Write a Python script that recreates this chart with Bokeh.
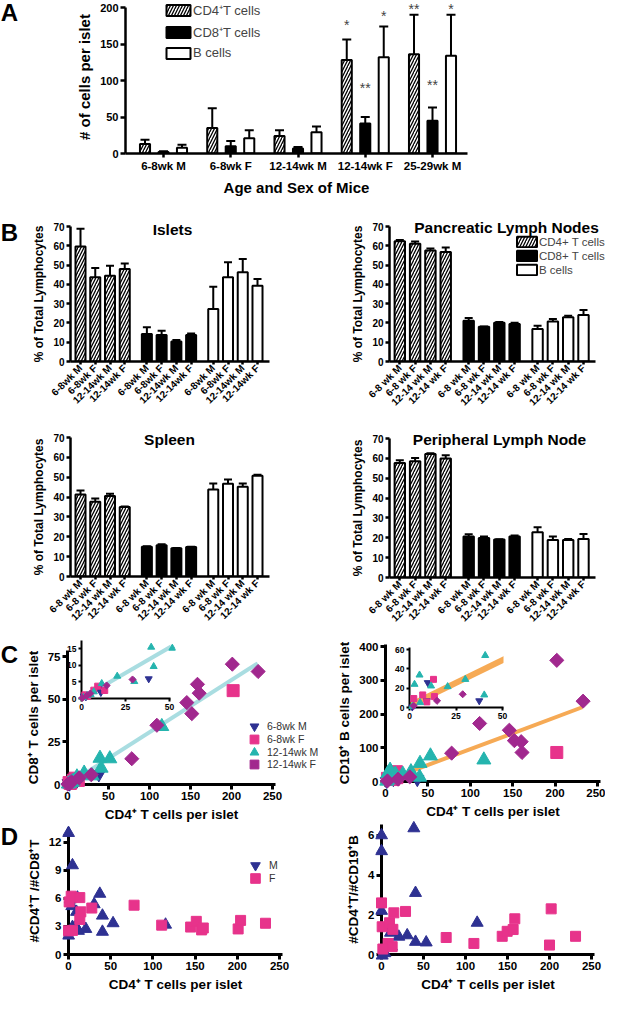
import math
from bokeh.plotting import figure
from bokeh.models import (ColumnDataSource, Whisker, TeeHead, Legend, LegendItem,
                          FixedTicker, GridBox, Range1d, Column)
from bokeh.core.properties import value
from bokeh.embed import file_html
from bokeh.resources import INLINE

FONT = "Liberation Sans"
NAVY = "#2E3192"
PINK = "#E7338B"
TEAL = "#25B4AE"
PURPLE = "#A1288E"
CYAN_LINE = "#A9DDE1"
ORANGE_LINE = "#F6AA55"
NAN = float("nan")

# ---------------- Panel A data ----------------
a_groups = ["6-8wk M", "6-8wk F", "12-14wk M", "12-14wk F", "25-29wk M"]
a_cd4 = [13, 35, 24, 128, 136]
a_cd4_err = [19, 62, 32, 156, 190]
a_cd8 = [2, 10, 7, 41, 45]
a_cd8_err = [3, 17, 9, 50, 63]
a_b = [8, 21, 29, 132, 134]
a_b_err = [12, 32, 37, 174, 190]
a_sig_group = [3, 3, 3, 4, 4, 4]
a_sig_series = [0, 1, 2, 0, 1, 2]
a_sig_text = ["*", "**", "*", "**", "**", "*"]
a_sig_y = [181, 95, 194, 204, 99, 204]

# ---------------- Panel B data ----------------
cats_islets = ["6-8wk M", "6-8wk F", "12-14wk M", "12-14wk F"]
cats_other = ["6-8 wk M", "6-8 wk F", "12-14 wk M", "12-14 wk F"]

isl_cd4 = [59.6, 43.7, 44.5, 48.0]
isl_cd4_err = [68.8, 48.5, 49.6, 50.8]
isl_cd8 = [14.2, 13.7, 10.4, 13.7]
isl_cd8_err = [17.7, 16.0, 11.1, 14.5]
isl_b = [27.2, 43.7, 46.3, 39.3]
isl_b_err = [38.8, 51.5, 53.2, 42.8]

pln_cd4 = [62.4, 61.0, 57.5, 56.8]
pln_cd4_err = [63.0, 62.2, 58.6, 59.1]
pln_cd8 = [21.1, 18.0, 20.1, 19.4]
pln_cd8_err = [22.5, 18.2, 20.5, 20.1]
pln_b = [16.8, 20.8, 22.9, 24.1]
pln_b_err = [18.5, 22.0, 23.7, 26.7]

spl_cd4 = [41.3, 37.7, 40.5, 35.0]
spl_cd4_err = [43.3, 39.3, 41.7, 35.3]
spl_cd8 = [15.0, 15.8, 14.2, 14.8]
spl_cd8_err = [15.2, 16.2, 14.3, 15.0]
spl_b = [43.8, 46.7, 45.2, 50.8]
spl_b_err = [46.8, 48.8, 46.8, 51.3]

per_cd4 = [57.7, 58.5, 62.2, 59.9]
per_cd4_err = [59.0, 60.2, 62.6, 61.6]
per_cd8 = [20.7, 19.9, 19.1, 20.7]
per_cd8_err = [21.8, 20.6, 19.2, 21.2]
per_b = [22.8, 18.9, 18.9, 19.4]
per_b_err = [25.3, 20.6, 19.4, 21.9]

b_titles = ["Islets", "Pancreatic Lymph Nodes", "Spleen", "Peripheral Lymph Node"]
panel_letters = ["A", "B", "C", "D"]

# ---------------- Panel C data ----------------
c_groups = ["6-8wk M", "6-8wk F", "12-14wk M", "12-14wk F"]
cl_m68_x = [1.3, 2.5, 9.9, 11.0, 38.2]
cl_m68_y = [0.7, 0.5, 2.9, 1.8, 5.9]
cl_f68_x = [1.9, 3.5, 7.0, 9.2, 13.2, 202]
cl_f68_y = [1.1, 0.6, 2.5, 3.7, 2.4, 55]
cl_m1214_x = [1.0, 3.2, 5.2, 7.0, 11.5, 20.3, 30.0, 39.6, 41.0, 51.6, 115]
cl_m1214_y = [0.3, 0.9, 1.2, 2.0, 4.5, 6.7, 5.1, 15.4, 9.6, 15.1, 34.0]
cl_f1214_x = [0.5, 3.0, 5.0, 14.3, 29.0, 78.4, 109, 145.5, 151.6, 158.5, 160.6, 201, 232.5]
cl_f1214_y = [0.2, 0.8, 1.5, 3.9, 5.7, 15.1, 34.7, 48.0, 41.5, 58.7, 53.5, 70.5, 66.2]
cl_fit_x = [0, 232]
cl_fit_y = [0, 71]
cr_m68_x = [1.5, 9.3, 9.8, 37.5]
cr_m68_y = [0.5, 6.9, 25.7, 6.9]
cr_f68_x = [2.3, 7.1, 9.3, 12.9, 13.4, 202]
cr_f68_y = [9.3, 13.0, 5.8, 29.1, 11.3, 86]
cr_m1214_x = [1.5, 2.7, 5.4, 5.7, 11.6, 20.5, 30.0, 40.2, 40.7, 53.0, 116]
cr_m1214_y = [1.2, 24.0, 33.6, 5.1, 22.3, 21.6, 29.1, 13.0, 53.8, 76.0, 64.0]
cr_f1214_x = [2.3, 14.8, 28.6, 78, 111, 146, 152, 160, 161, 202, 233]
cr_f1214_y = [1.7, 6.9, 13.7, 84, 172, 152, 121, 118, 86, 359, 238]
cr_fit_x = [0, 232]
cr_fit_y = [2, 220]

# ---------------- Panel D data ----------------
dl_m_x = [0, 4.7, 2, 3.9, 10.6, 9.5, 30.4, 37.1, 40.2, 52.8, 40.2, 20.5, 115, 0, 4.7, 8.7, 11.8]
dl_m_y = [13.0, 9.6, 6.0, 5.3, 6.2, 4.7, 5.5, 6.6, 4.3, 3.5, 2.6, 2.9, 3.35, 2.2, 3.1, 3.2, 2.7]
dl_f_x = [0, 0.8, 3.2, 4.7, 13.4, 14.6, 13.4, 27.6, 77.7, 110.4, 144.7, 151.4, 157.7, 159.7, 201, 203.9, 233.4]
dl_f_y = [2.7, 5.75, 6.35, 2.75, 6.2, 4.7, 3.9, 5.1, 5.4, 3.3, 3.1, 3.7, 2.8, 3.0, 2.9, 3.8, 3.5]
dr_m_x = [0, 0, 38.5, 40.5, 0, 113.9, 9.5, 10.7, 20.6, 30.6, 40.5, 53.2, 11.9, 4, 0.8]
dr_m_y = [6.1, 5.3, 6.45, 3.2, 2.3, 1.7, 1.55, 1.2, 1.0, 1.07, 0.74, 0.71, 0.5, 0.17, 0.05]
dr_f_x = [0, 0.8, 14.7, 28.6, 9.5, 13.5, 7.9, 12.7, 1.6, 77, 110, 143.7, 149.6, 156.7, 158.7, 200, 202, 231]
dr_f_y = [2.7, 1.5, 2.2, 2.27, 1.7, 1.37, 0.66, 0.5, 0.38, 0.96, 0.66, 1.02, 1.27, 1.36, 1.9, 0.58, 2.4, 1.02]
d_groups = ["M", "F"]


def lin(px, cal):
    pa, va, pb, vb = cal
    return va + (px - pa) * (vb - va) / (pb - pa)


placed = []


def make_fig(canvas, frame, xcal, ycal, axes=True):
    cl, ct, cr, cb = canvas
    fl, ft, fr, fb = frame
    kw = {} if axes else dict(x_axis_location=None, y_axis_location=None)
    p = figure(width=cr - cl, height=cb - ct,
               x_range=Range1d(lin(fl, xcal), lin(fr, xcal)),
               y_range=Range1d(lin(fb, ycal), lin(ft, ycal)),
               min_border_left=fl - cl, min_border_right=cr - fr,
               min_border_top=ft - ct, min_border_bottom=cb - fb,
               output_backend="svg", toolbar_location=None, **kw)
    p.xgrid.visible = False
    p.ygrid.visible = False
    p.outline_line_color = None
    p.background_fill_alpha = 0
    p.border_fill_alpha = 0
    placed.append(Column(children=[p], margin=(ct - 8, 0, 0, cl - 8)))
    return p


def style_axis(ax, lw, tick_out, tick_size, label_size, label_style="bold"):
    ax.axis_line_width = lw
    ax.axis_line_color = "black"
    ax.major_tick_line_width = lw
    ax.major_tick_line_color = "black"
    ax.major_tick_out = tick_out
    ax.major_tick_in = 0
    ax.minor_tick_line_color = None
    ax.major_label_text_font = FONT
    ax.major_label_text_font_style = "bold"
    ax.major_label_text_font_size = tick_size
    ax.major_label_text_color = "black"
    ax.major_label_standoff = 2
    ax.axis_label_text_font = FONT
    ax.axis_label_text_font_style = label_style
    ax.axis_label_text_font_size = label_size
    ax.axis_label_text_color = "black"
    ax.axis_label_standoff = 4


def bar_series(p, xs, vals, errs, width, fill, hatch, cap):
    src = ColumnDataSource(dict(x=xs, top=vals, err=errs))
    kw = {}
    if hatch:
        kw = dict(hatch_pattern=hatch, hatch_color="black", hatch_scale=6, hatch_weight=1.3)
    r = p.vbar(x="x", top="top", width=width, source=src, fill_color=fill,
               line_color="black", line_width=2, **kw)
    p.add_layout(Whisker(source=src, base="x", lower="top", upper="err",
                         dimension="height", line_width=2, line_color="black",
                         upper_head=TeeHead(size=cap, line_width=2, line_color="black"),
                         lower_head=None))
    return r


def bar_legend(p, labels, rends, loc, gw, gh, lh, spacing, size):
    p.add_layout(Legend(items=[LegendItem(label=value(t), renderers=[r]) for t, r in zip(labels, rends)],
                        location=loc, glyph_width=gw, glyph_height=gh, label_height=lh,
                        spacing=spacing, label_standoff=0, padding=0, margin=0,
                        border_line_color=None, background_fill_alpha=0,
                        label_text_font=FONT, label_text_font_size=size))


# ---------------- Panel A ----------------
pA = make_fig((8, 8, 488, 206), (133, 8, 475, 161), (171, 0, 440, 4), (161, 0, 15, 200))
offs = [-0.275, 0.0, 0.275]
a_series = [(a_cd4, a_cd4_err, "white", "/"),
            (a_cd8, a_cd8_err, "black", None),
            (a_b, a_b_err, "white", None)]
a_rends = []
for s, (vals, errs, fill, hatch) in enumerate(a_series):
    xs = [i + offs[s] for i in range(len(vals))]
    a_rends.append(bar_series(pA, xs, vals, errs, 0.15, fill, hatch, 9))
star_src = ColumnDataSource(dict(
    x=[g + offs[s] for g, s in zip(a_sig_group, a_sig_series)],
    y=a_sig_y, t=a_sig_text))
pA.text(x="x", y="y", text="t", source=star_src, text_font=value(FONT),
        text_font_size="14px", text_align="center", text_baseline="middle",
        y_offset=4, text_color="#444444")
style_axis(pA.xaxis[0], 2.5, 4, "11.5px", "15px")
style_axis(pA.yaxis[0], 2.5, 5, "11px", "15px")
pA.xaxis[0].ticker = FixedTicker(ticks=list(range(len(a_groups))))
pA.xaxis[0].major_label_overrides = {i: g for i, g in enumerate(a_groups)}
pA.xaxis.axis_label = "Age and Sex of Mice"
pA.yaxis[0].ticker = FixedTicker(ticks=[0, 50, 100, 150, 200])
pA.yaxis[0].bounds = (0, 200)
pA.yaxis.axis_label = "# of cells per islet"
bar_legend(pA, ["CD4⁺T cells", "CD8⁺T cells", "B cells"], a_rends, (38, 93), 30, 14, 14, 4, "13px")


# ---------------- Panel B ----------------
def bar_panel(canvas, frame, x0px, x12px, axis_end_px, cats, data, legend_loc=None):
    fl, ft, fr, fb = frame
    xcal = (x0px, 0, x12px, 12)
    p = make_fig(canvas, frame, xcal, (fb, 0, ft, 70))
    styles = [("white", "/"), ("black", None), ("white", None)]
    positions, labels, rends = [], [], []
    for s, (vals, errs) in enumerate(data):
        xs = [i + 4.5 * s for i in range(len(vals))]
        positions += xs
        labels += cats
        rends.append(bar_series(p, xs, vals, errs, 0.68, styles[s][0], styles[s][1], 8))
    style_axis(p.xaxis[0], 2.5, 3, "10px", "12px")
    style_axis(p.yaxis[0], 2.5, 4, "10px", "12px")
    p.xaxis[0].ticker = FixedTicker(ticks=positions)
    p.xaxis[0].major_label_overrides = dict(zip(positions, labels))
    p.xaxis[0].major_label_orientation = math.pi / 4
    p.xaxis[0].bounds = (lin(fl, xcal), lin(axis_end_px, xcal))
    p.yaxis[0].ticker = FixedTicker(ticks=[0, 10, 20, 30, 40, 50, 60, 70])
    p.yaxis.axis_label = "% of Total Lymphocytes"
    if legend_loc:
        bar_legend(p, ["CD4+ T cells", "CD8+ T cells", "B cells"], rends,
                   legend_loc, 25, 13, 13, 1, "11.5px")
    return p


bar_panel((8, 208, 290, 430), (78, 234, 277, 369), 88, 265, 277, cats_islets,
          [(isl_cd4, isl_cd4_err), (isl_cd8, isl_cd8_err), (isl_b, isl_b_err)])
bar_panel((320, 208, 613, 430), (397, 234, 613, 369), 407.3, 591, 603, cats_other,
          [(pln_cd4, pln_cd4_err), (pln_cd8, pln_cd8_err), (pln_b, pln_b_err)],
          legend_loc=(522 - 397, 369 - 284))
bar_panel((8, 420, 290, 640), (78, 445, 277, 584), 88, 265, 277, cats_other,
          [(spl_cd4, spl_cd4_err), (spl_cd8, spl_cd8_err), (spl_b, spl_b_err)])
bar_panel((320, 420, 613, 640), (397, 446, 603, 585), 407.3, 591, 603, cats_other,
          [(per_cd4, per_cd4_err), (per_cd8, per_cd8_err), (per_b, per_b_err)])


# ---------------- scatter helpers ----------------
def axes_fig(canvas, frame, xcal, ycal, xticks, yticks, xlabel, ylabel,
             lw, tick_out, tick_size, label_size):
    p = make_fig(canvas, frame, xcal, ycal)
    style_axis(p.xaxis[0], lw, tick_out, tick_size, label_size)
    style_axis(p.yaxis[0], lw, tick_out, tick_size, label_size)
    p.xaxis[0].ticker = FixedTicker(ticks=xticks)
    p.yaxis[0].ticker = FixedTicker(ticks=yticks)
    if xlabel:
        p.xaxis.axis_label = xlabel
    if ylabel:
        p.yaxis.axis_label = ylabel
    return p


C_MARKERS = [("inverted_triangle", NAVY, 0.0, 13, 7),
             ("square", PINK, 0.0, 12, 6),
             ("triangle", TEAL, 0.0, 14, 7),
             ("square", PURPLE, math.pi / 4, 10, 5)]


def c_points(p, groups, big):
    rends = []
    for (xs, ys), (mk, col, ang, sb, ss) in zip(groups, C_MARKERS):
        rends.append(p.scatter(x=xs, y=ys, marker=mk, size=sb if big else ss, angle=ang,
                               fill_color=col, line_color=col))
    return rends


def row_legends(p, frame, labels, rends, left_px, first_center_py, pitch, gsize):
    # one single-item legend per row so rows can sit closer than the key glyph box
    fl, ft, fr, fb = frame
    for i, (t, r) in enumerate(zip(labels, rends)):
        bottom_py = first_center_py + i * pitch + gsize / 2
        p.add_layout(Legend(items=[LegendItem(label=value(t), renderers=[r])],
                            location=(left_px - fl, fb - bottom_py),
                            glyph_width=gsize, glyph_height=gsize, label_height=13,
                            label_standoff=2, padding=0, margin=0,
                            border_line_color=None, background_fill_alpha=0,
                            label_text_font=FONT, label_text_font_size="10.5px",
                            label_text_color="#333333"))


XT = [0, 50, 100, 150, 200, 250]

# ---------------- Panel C left ----------------
cl_xcal = (75, 0, 280, 250)
cl_ycal = (792, 0, 664, 75)
pCLa = axes_fig((8, 640, 300, 834), (75, 658, 283, 792), cl_xcal, cl_ycal, XT, [0, 25, 50, 75],
                "CD4⁺ T cells per islet", "CD8⁺ T cells per islet", 3, 5, "11.5px", "13.5px")
pCLa.line(cl_fit_x, cl_fit_y, line_color=CYAN_LINE, line_width=4)
CLd_frame = (67, 650, 326, 800)
pCLd = make_fig((8, 640, 326, 834), CLd_frame, cl_xcal, cl_ycal, axes=False)
cl_groups = [(cl_m68_x, cl_m68_y), (cl_f68_x, cl_f68_y), (cl_m1214_x, cl_m1214_y), (cl_f1214_x, cl_f1214_y)]
rCL = c_points(pCLd, cl_groups, True)
row_legends(pCLd, CLd_frame, c_groups, rCL, 251, 734, 12.8, 22)

cli_xcal = (89, 0, 177, 50)
cli_ycal = (706, 0, 656, 15)
pCLia = axes_fig((60, 640, 190, 730), (89, 648, 178, 706), cli_xcal, cli_ycal, [0, 25, 50],
                 [0, 5, 10, 15], None, None, 2, 3, "8.5px", "8px")
pCLia.line(cl_fit_x, cl_fit_y, line_color=CYAN_LINE, line_width=4)
pCLid = make_fig((60, 640, 190, 730), (84, 643, 183, 711), cli_xcal, cli_ycal, axes=False)
c_points(pCLid, cl_groups, False)

# ---------------- Panel C right ----------------
cr_xcal = (393, 0, 605, 250)
cr_ycal = (789, 0, 654, 400)
pCRa = axes_fig((322, 640, 613, 834), (393, 652, 608, 789), cr_xcal, cr_ycal, XT,
                [0, 100, 200, 300, 400], "CD4⁺ T cells per islet", "CD19⁺ B cells per islet",
                3, 5, "11.5px", "13.5px")
pCRa.line(cr_fit_x, cr_fit_y, line_color=ORANGE_LINE, line_width=4)
cr_groups = [(cr_m68_x, cr_m68_y), (cr_f68_x, cr_f68_y), (cr_m1214_x, cr_m1214_y), (cr_f1214_x, cr_f1214_y)]
pCRd = make_fig((322, 640, 613, 834), (386, 645, 613, 796), cr_xcal, cr_ycal, axes=False)
c_points(pCRd, cr_groups, True)

cri_xcal = (417, 0, 510, 50)
cri_ycal = (715, 0, 657, 60)
pCRia = axes_fig((392, 640, 525, 740), (417, 655, 511, 715), cri_xcal, cri_ycal, [0, 25, 50],
                 [0, 20, 40, 60], None, None, 2, 3, "8.5px", "8px")
pCRia.line(cr_fit_x, cr_fit_y, line_color=ORANGE_LINE, line_width=6)
pCRid = make_fig((392, 640, 525, 740), (412, 650, 516, 720), cri_xcal, cri_ycal, axes=False)
c_points(pCRid, cr_groups, False)

# ---------------- Panel D left ----------------
dl_xcal = (76, 0, 287, 250)
dl_ycal = (964, 0, 850, 12)
axes_fig((8, 828, 322, 1002), (76, 835, 290, 964), dl_xcal, dl_ycal, XT, [0, 3, 6, 9, 12],
         "CD4⁺ T cells per islet", "#CD4⁺T /#CD8⁺T", 3, 5, "11.5px", "13.5px")
DLd_frame = (70, 829, 320, 970)
pDLd = make_fig((8, 828, 322, 1002), DLd_frame, dl_xcal, dl_ycal, axes=False)
pDLd.scatter(x=dl_m_x, y=dl_m_y, marker="triangle", size=12, fill_color=NAVY, line_color=NAVY)
pDLd.scatter(x=dl_f_x, y=dl_f_y, marker="square", size=10, fill_color=PINK, line_color=PINK)
# legend keys (the key for M is drawn as a down-pointing triangle, as in the original)
keyM = pDLd.scatter(x=[NAN], y=[NAN], marker="inverted_triangle", fill_color=NAVY, line_color=NAVY)
keyF = pDLd.scatter(x=[NAN], y=[NAN], marker="square", fill_color=PINK, line_color=PINK)
row_legends(pDLd, DLd_frame, d_groups, [keyM, keyF], 251, 873, 12.6, 24)

# ---------------- Panel D right ----------------
dr_xcal = (389, 0, 599, 250)
dr_ycal = (964, 0, 843, 6)
axes_fig((322, 828, 613, 1002), (389, 832, 602, 964), dr_xcal, dr_ycal, XT, [0, 2, 4, 6],
         "CD4⁺ T cells per islet", "#CD4⁺T/#CD19⁺B", 3, 5, "11.5px", "13.5px")
pDRd = make_fig((322, 828, 613, 1002), (383, 826, 608, 970), dr_xcal, dr_ycal, axes=False)
pDRd.scatter(x=dr_m_x, y=dr_m_y, marker="triangle", size=12, fill_color=NAVY, line_color=NAVY)
pDRd.scatter(x=dr_f_x, y=dr_f_y, marker="square", size=10, fill_color=PINK, line_color=PINK)

# ---------------- text overlay: panel letters and panel B titles ----------------
pT = make_fig((8, 8, 613, 1002), (8, 8, 613, 1002), (8, 8, 613, 613), (1002, 1002, 8, 8), axes=False)
pT.text(x=[17, 17, 17, 17], y=[20, 240, 662, 844], text=panel_letters, text_font=value(FONT),
        text_font_style="bold", text_font_size="24px", text_align="center",
        text_baseline="middle")
pT.text(x=[180, 514, 177, 507], y=[236.5, 234.5, 446.5, 446.5], text=b_titles,
        text_font=value(FONT), text_font_style="bold", text_font_size="15.5px",
        text_align="center", text_baseline="alphabetic")

root = GridBox(children=[(w, 0, 0) for w in placed])
open("out.html", "w").write(file_html(root, INLINE, "Figure"))
